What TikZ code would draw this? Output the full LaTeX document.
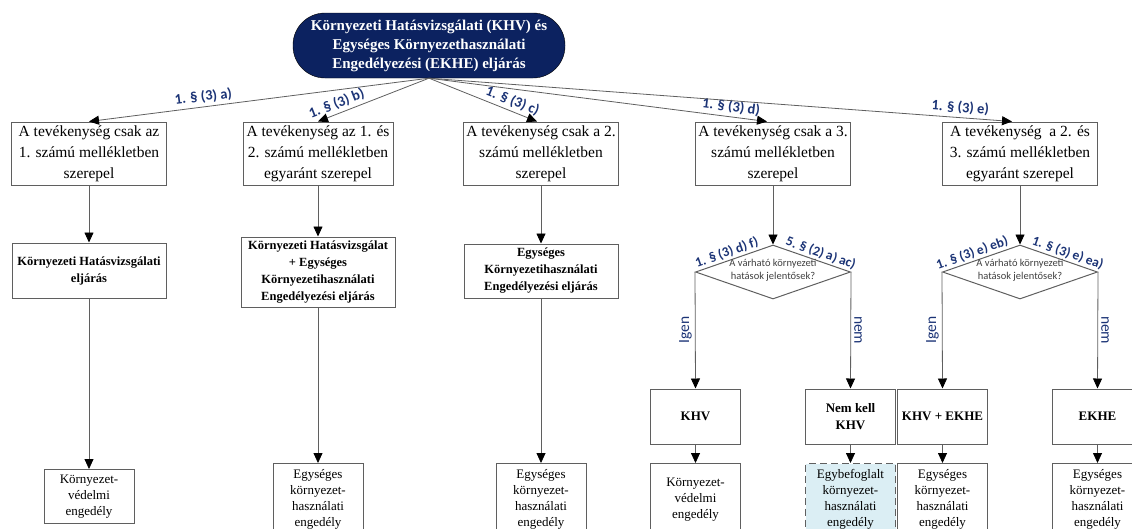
\documentclass[tikz,border=0pt]{standalone}
\usepackage{fontspec}
\setmainfont{Liberation Serif}
\newfontfamily\calibri{Carlito}
\usetikzlibrary{arrows.meta,shapes.geometric}
\definecolor{khvnavy}{RGB}{12,34,96}
\definecolor{khvlabel}{RGB}{28,52,118}
\definecolor{khvline}{RGB}{95,95,95}
\definecolor{khvpale}{RGB}{219,238,244}
\tikzset{
	mainbox/.style={draw=black, fill=khvnavy, text=white, rounded corners=32pt, align=center, inner sep=0pt,
		minimum width=272pt, minimum height=65pt, font=\bfseries\fontsize{15}{19}\selectfont},
	box/.style={draw=khvline, line width=1pt, fill=white, align=center, inner sep=0pt},
	casebox/.style={box, minimum width=155pt, minimum height=63pt, font=\fontsize{15.5}{21}\selectfont},
	procbox/.style={box, minimum width=154pt, font=\bfseries\fontsize{12.5}{17}\selectfont},
	shortbox/.style={box, minimum width=90pt, minimum height=55pt, font=\bfseries\fontsize{13}{17}\selectfont},
	permit/.style={box, anchor=north, minimum width=90pt, minimum height=72pt, text width=86pt,
		font=\fontsize{13}{16}\selectfont},
	ask/.style={draw=khvline, line width=1pt, diamond, aspect=2.9, inner sep=0pt, minimum width=155pt,
		minimum height=54pt},
	asktext/.style={align=center, inner sep=0pt, text=black!75, font=\calibri\fontsize{10.5}{12.5}\selectfont},
	arr/.style={draw=khvline, line width=0.8pt, -{Triangle[length=10pt,width=9pt,black]}},
	para/.style={sloped, above, inner sep=3pt, text=khvlabel, font=\calibri\bfseries\fontsize{14.5}{16}\selectfont},
	edgepara/.style={para, inner sep=1.5pt, font=\calibri\bfseries\fontsize{13.5}{15}\selectfont},
	yesno/.style={anchor=south, inner sep=3pt, text=khvlabel, font=\calibri\fontsize{15.5}{16}\selectfont},
}

\begin{document}
\begin{tikzpicture}[x=1pt,y=-1pt]
		%%%%% START %%%%%
		\useasboundingbox (0,0) rectangle (1132,528);
		\clip (0,0) rectangle (1132,528);
		
		\node[mainbox] (top) at (429,45.5) {Környezeti Hatásvizsgálati (KHV) és\\Egységes Környezethasználati\\Engedélyezési (EKHE) eljárás};
		
		% which annex the activity is listed in
		\node[casebox] (c1) at (89,153.5) {A tevékenység csak az\\1. számú mellékletben\\szerepel};
		\node[casebox, minimum width=150pt] (c2) at (318,153.5) {A tevékenység az 1. és\\2. számú mellékletben\\egyaránt szerepel};
		\node[casebox] (c3) at (541,153.5) {A tevékenység csak a 2.\\számú mellékletben\\szerepel};
		\node[casebox] (c4) at (773,153.5) {A tevékenység csak a 3.\\számú mellékletben\\szerepel};
		\node[casebox] (c5) at (1020,153.5) {A tevékenység\ \ a 2. és\\3. számú mellékletben\\egyaránt szerepel};
		
		\draw[arr] (top.south) -- (c1.north) node[para, pos=0.66] (pa) {1. § (3) a)};
		\draw[arr] (top.south) -- (c2.north) node[para, pos=0.8] (pb) {1. § (3) b)};
		\draw[arr] (top.south) -- ([xshift=-4pt]c3.north) node[para, pos=0.74] (pc) {1. § (3) c)};
		\draw[arr] (top.south) -- ([xshift=-6pt]c4.north) node[para, pos=0.89] (pd) {1. § (3) d)};
		\draw[arr] (top.south) -- ([xshift=-8pt]c5.north) node[para, pos=0.91] (pe) {1. § (3) e)};
		
		% procedures
		\node[procbox, minimum height=55pt] (p1) at (89,270.5) {Környezeti Hatásvizsgálati\\eljárás};
		\node[procbox, minimum height=70pt] (p2) at (318,272) {Környezeti Hatásvizsgálat\\+ Egységes\\Környezetihasználati\\Engedélyezési eljárás};
		\node[procbox, minimum height=54pt] (p3) at (541,271) {Egységes\\Környezetihasználati\\Engedélyezési eljárás};
		
		\node[ask] (q4) at (773,272) {};
		\node[asktext] (t4) at (773,270) {A várható környezeti\\hatások jelentősek?};
		\node[ask] (q5) at (1020,272) {};
		\node[asktext] (t5) at (1020,270) {A várható környezeti\\hatások jelentősek?};
		
		\draw[arr] (c1.south) -- (p1.north);
		\draw[arr] (c2.south) -- (p2.north);
		\draw[arr] (c3.south) -- (p3.north);
		\draw[arr] (c4.south) -- (q4.north);
		\draw[arr] (c5.south) -- (q5.north);
		
		\path (q4.west) -- (q4.north) node[edgepara, pos=0.44] (pdf) {1. § (3) d) f)};
		\path (q4.north) -- (q4.east) node[edgepara, pos=0.58] (pac) {5. § (2) a) ac)};
		\path (q5.west) -- (q5.north) node[edgepara, pos=0.42] (peb) {1. § (3) e) eb)};
		\path (q5.north) -- (q5.east) node[edgepara, pos=0.58] (pea) {1. § (3) e) ea)};
		
		% screening outcome
		\node[shortbox] (k4) at (695.5,416.5) {KHV};
		\node[shortbox] (n4) at (850.5,416.5) {Nem kell\\KHV};
		\node[shortbox] (k5) at (942.5,416.5) {KHV + EKHE};
		\node[shortbox] (e5) at (1097.5,416.5) {EKHE};
		
		\draw[arr] (q4.west) -- (k4.north) node[yesno, midway, rotate=90] (y4) {Igen};
		\draw[arr] (q4.east) -- (n4.north) node[yesno, midway, rotate=-90] (x4) {nem};
		\draw[arr] (q5.west) -- (k5.north) node[yesno, midway, rotate=90] (y5) {Igen};
		\draw[arr] (q5.east) -- (e5.north) node[yesno, midway, rotate=-90] (x5) {nem};
		
		% permits
		\node[permit, minimum height=54pt] (g1) at (89,469) {Környezet-\\védelmi\\engedély};
		\node[permit] (g2) at (318,463) {Egységes\\környezet-\\használati\\engedély};
		\node[permit] (g3) at (541,463) {Egységes\\környezet-\\használati\\engedély};
		\node[permit] (g4) at (695.5,463) {Környezet-\\védelmi\\engedély};
		\node[permit, fill=khvpale, dash pattern=on 7pt off 4pt] (g5) at (850.5,463) {Egybefoglalt\\környezet-\\használati\\engedély};
		\node[permit] (g6) at (942.5,463) {Egységes\\környezet-\\használati\\engedély};
		\node[permit] (g7) at (1097.5,463) {Egységes\\környezet-\\használati\\engedély};
		
		\draw[arr] (p1.south) -- (g1.north);
		\draw[arr] (p2.south) -- (g2.north);
		\draw[arr] (p3.south) -- (g3.north);
		\draw[arr] (k4.south) -- (g4.north);
		\draw[arr] (n4.south) -- (g5.north);
		\draw[arr] (k5.south) -- (g6.north);
		\draw[arr] (e5.south) -- (g7.north);
		%%%%% END %%%%%
\end{tikzpicture}
\end{document}
